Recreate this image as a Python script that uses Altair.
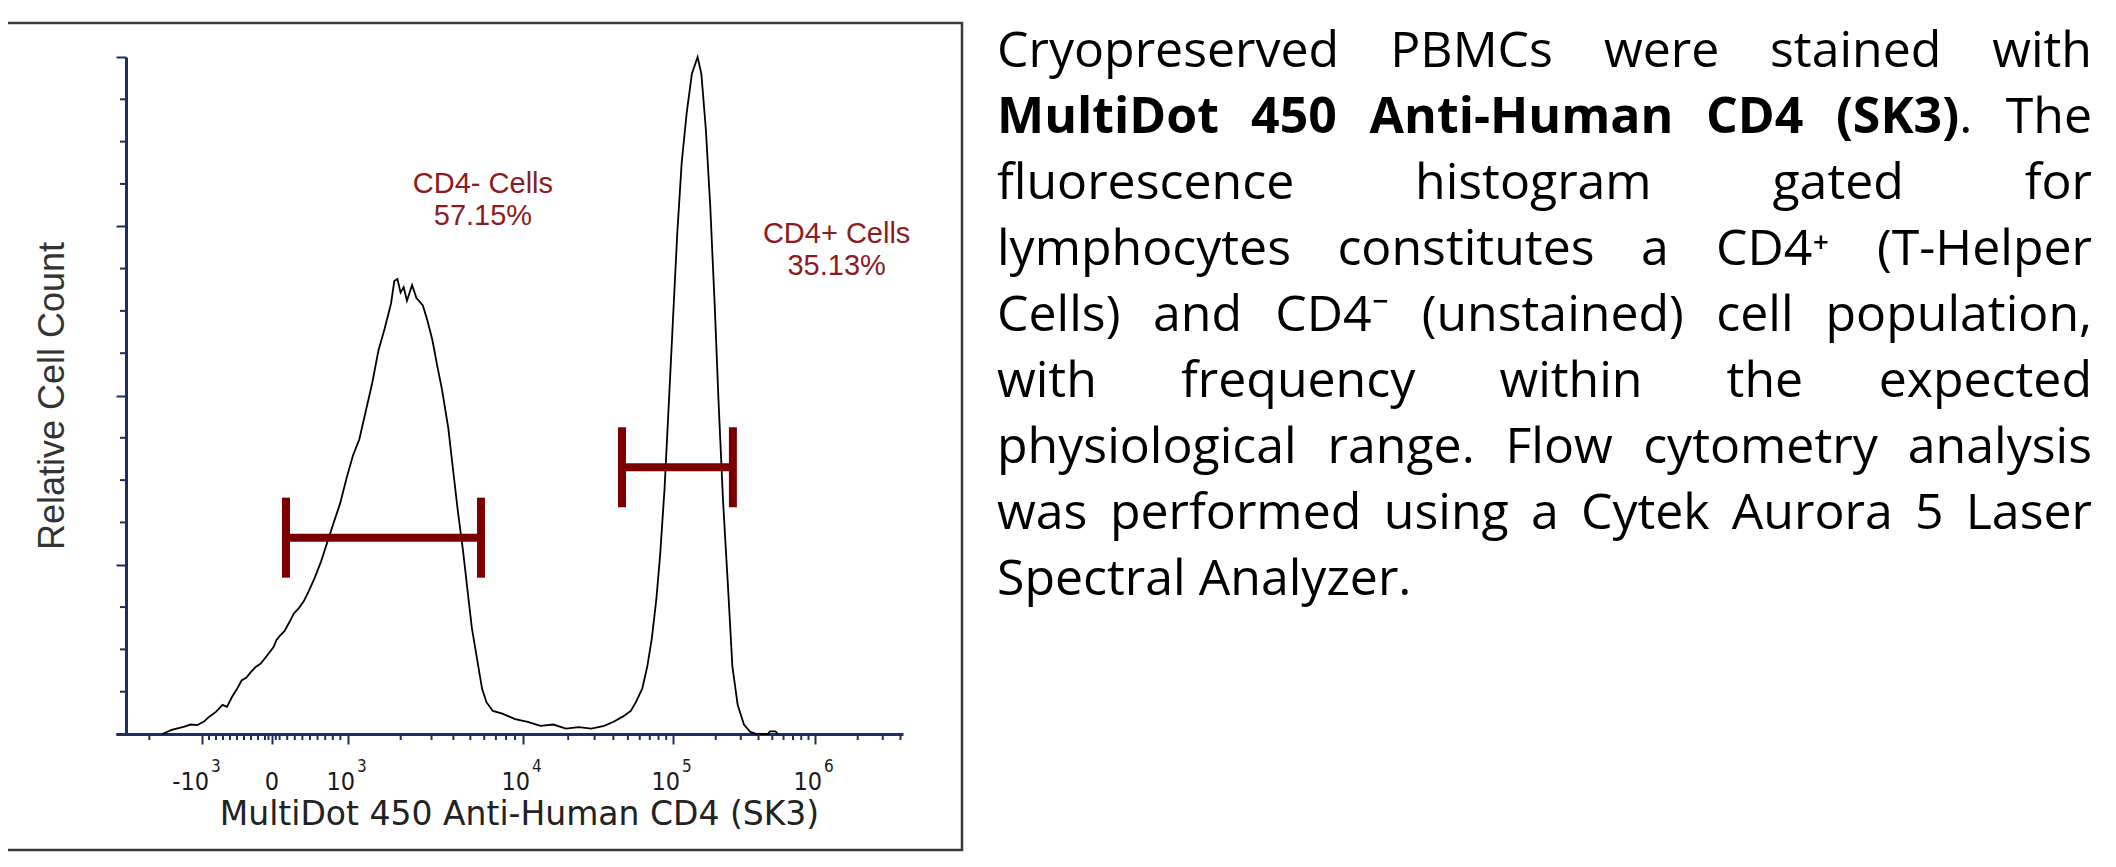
import altair as alt
import numpy as np
import pandas as pd

# ---------------- data ----------------
# histogram: display channel (0-1000 across the axis) and relative cell count (0-100)
hist_channel = [58.6, 70.8, 86.9, 95.0, 103.0, 111.2, 119.0, 127.3, 135.4, 141.0, 147.5, 153.5,
                159.6, 165.5, 171.8, 177.5, 183.9, 192.0, 200.0, 204.0, 208.1, 214.0, 220.2, 226.0,
                232.4, 238.5, 244.5, 252.6, 260.6, 268.7, 276.8, 284.9, 293.0, 301.0, 309.1, 317.2,
                325.3, 333.4, 341.4, 349.5, 353.6, 357.6, 361.6, 365.5, 369.7, 376.2, 381.8, 389.9,
                395.6, 402.0, 408.5, 414.2, 422.2, 427.9, 434.4, 440.8, 446.5, 452.1, 458.6, 465.1,
                470.7, 478.8, 490.9, 507.1, 523.2, 539.4, 555.6, 571.7, 587.9, 604.0, 620.2, 632.3,
                644.4, 654.1, 660.6, 668.7, 675.1, 680.8, 686.5, 691.3, 697.0, 702.6, 707.5, 713.1,
                718.8, 725.2, 731.7, 739.0, 743.8, 749.5, 755.1, 760.8, 765.6, 771.3, 777.8, 783.2,
                789.9, 797.9, 806.0, 814.1, 828.0, 831.0, 838.0, 841.0]
hist_count = [0.0, 0.6, 1.1, 1.4, 1.3, 1.8, 2.6, 3.3, 4.3, 4.0, 5.5, 6.6,
              7.9, 8.3, 9.2, 9.9, 10.4, 11.6, 12.8, 13.9, 14.5, 15.2, 16.5, 17.8,
              18.6, 19.6, 21.0, 23.1, 25.5, 28.4, 31.3, 34.1, 37.8, 41.1, 43.5, 47.6,
              51.7, 56.6, 59.9, 63.6, 66.9, 67.2, 65.2, 66.0, 64.0, 66.3, 64.4, 63.3,
              61.1, 58.2, 54.2, 50.9, 45.2, 39.4, 32.9, 27.2, 21.4, 15.7, 11.2, 6.7,
              4.7, 3.4, 3.0, 2.2, 1.8, 1.2, 1.4, 0.8, 1.0, 0.8, 1.2, 1.8,
              2.6, 3.4, 4.7, 6.7, 10.0, 14.1, 19.8, 26.3, 36.2, 49.2, 60.7, 73.8,
              84.4, 91.8, 97.5, 100.0, 97.5, 89.3, 77.9, 63.2, 49.2, 34.5, 21.4, 10.0,
              4.3, 1.4, 0.3, 0.0, 0.0, 0.4, 0.4, 0.0]

# x axis ticks (fluorescence intensity) and their labels (base + exponent)
tick_values = [-1000, 0, 1000, 10000, 100000, 1000000]
tick_base = ["-10", "0", "10", "10", "10", "10"]
tick_exp = ["3", "", "3", "4", "5", "6"]
minor_values = [-2000, -900, -800, -700, -600, -500, -400, -300, -200, -100, -50,
                50, 100, 200, 300, 400, 500, 600, 700, 800, 900,
                2000, 3000, 4000, 5000, 6000, 7000, 8000, 9000,
                20000, 30000, 40000, 50000, 60000, 70000, 80000, 90000,
                200000, 300000, 400000, 500000, 600000, 700000, 800000, 900000,
                2000000, 3000000, 4000000]
y_major = [0, 25, 50, 75, 100]
y_minor = [6.25, 12.5, 18.75, 31.25, 37.5, 43.75, 56.25, 62.5, 68.75, 81.25, 87.5, 93.75]

# gates
gate_names = ["CD4- Cells", "CD4+ Cells"]
gate_percent = ["57.15%", "35.13%"]
gate_low = [184, 45700]
gate_high = [5750, 264000]
gate_level = [29.0, 39.4]
label_value = [5900, 1420000]
label_count = [79.9, 72.5]

# paragraph (words of each line; "(SK3)" + "." are glued)
para_words = [
    ["Cryopreserved", "PBMCs", "were", "stained", "with"],
    ["MultiDot", "450", "Anti-Human", "CD4", "(SK3)", ".", "The"],
    ["fluorescence", "histogram", "gated", "for"],
    ["lymphocytes", "constitutes", "a", "CD4\u207a", "(T-Helper"],
    ["Cells)", "and", "CD4\u207b", "(unstained)", "cell", "population,"],
    ["with", "frequency", "within", "the", "expected"],
    ["physiological", "range.", "Flow", "cytometry", "analysis"],
    ["was", "performed", "using", "a", "Cytek", "Aurora", "5", "Laser"],
    ["Spectral Analyzer."],
]
bold_words = {(1, 0), (1, 1), (1, 2), (1, 3), (1, 4)}

# ---------------- layout / style ----------------
PARA_LEFT, PARA_WIDTH, PARA_BASE, PARA_GAP, PARA_FS = 881, 1095, 10, 66, 50
W, H = 787, 677
NAVY = "#1c2f5e"
GATE = "#7a0000"
LABEL = "#8a1c22"
TICKFONT = "DejaVu Sans Condensed"

# approximate advance widths (em) of Open Sans, used to justify the paragraph
_reg_chars = " abcdefghiklmnopqrstuvwyzABCDFHLMPST0123456789()-.,"
_reg_w = [.260, .556, .613, .476, .613, .561, .339, .548, .614, .253, .525, .253, .930, .614,
          .604, .613, .613, .408, .477, .353, .614, .501, .778, .500, .477, .633, .648, .631,
          .729, .524, .738, .525, .903, .603, .539, .557] + [.572] * 10 + [.297, .297, .322, .266, .245]
_bold_chars = " MDultioAnHmaCSK0123456789()-."
_bold_w = [.260, .976, .744, .656, .301, .414, .301, .617, .717, .656, .768, .983, .590, .633,
           .550, .655] + [.572] * 10 + [.339, .339, .322, .280]
REG = dict(zip(_reg_chars, _reg_w))
BOLD = dict(zip(_bold_chars, _bold_w))


def text_width(s, bold):
    table = BOLD if bold else REG
    return sum(table.get(ch, .36) for ch in s) * PARA_FS


decade_index = [-2, -1, 0, 1, 2, 3, 4, 5]
decade_channel = [-113.1, 109.3, 198.2, 294.8, 517.2, 707.8, 888.2, 1068.6]


def to_channel(v):
    v = np.asarray(v, dtype=float)
    a = np.abs(v)
    u = np.where(a <= 1000, v / 1000.0,
                 np.sign(v) * (1 + np.log10(np.maximum(a, 1000) / 1000.0)))
    return np.interp(u, decade_index, decade_channel)


tick_ch = [round(float(c), 1) for c in to_channel(tick_values)]

xscale = alt.Scale(domain=[0, 1000], nice=False, zero=False)
yscale = alt.Scale(domain=[0, 100], nice=False, zero=False)

xaxis = alt.Axis(values=tick_ch, labels=False, grid=False,
                 tickSize=10, tickWidth=2, tickColor=NAVY,
                 domainColor=NAVY, domainWidth=3,
                 title="MultiDot 450 Anti-Human CD4 (SK3)",
                 titleFont="DejaVu Sans", titleFontSize=33, titleFontWeight="normal",
                 titleColor="#222222", titleX=403, titleY=90, titleBaseline="alphabetic",
                 titleAlign="center")
yaxis = alt.Axis(values=y_major, labels=False, grid=False, offset=-10,
                 tickSize=10, tickWidth=2, tickColor=NAVY,
                 domainColor=NAVY, domainWidth=3,
                 title="Relative Cell Count",
                 titleFont="Liberation Sans", titleFontSize=36, titleFontWeight="normal",
                 titleColor="#333333", titleAngle=270, titleX=-63, titleY=338.5,
                 titleBaseline="alphabetic", titleAlign="center")

X = alt.X("ch:Q", scale=xscale, axis=xaxis)
Y = alt.Y("cnt:Q", scale=yscale, axis=yaxis)

hist_df = pd.DataFrame({"ch": hist_channel, "cnt": hist_count})
minor_df = pd.DataFrame({"ch": to_channel(minor_values)})
minor_df = minor_df[(minor_df.ch >= 0) & (minor_df.ch <= 1000)]
yminor_df = pd.DataFrame({"cnt": y_minor})
tick_df = pd.DataFrame({"ch": tick_ch, "base": tick_base, "exp": tick_exp})
gate_df = pd.DataFrame({"ch": to_channel(gate_low), "ch2": to_channel(gate_high),
                        "cnt": gate_level})
cap_df = pd.DataFrame({"ch": np.concatenate([to_channel(gate_low), to_channel(gate_high)]),
                       "cnt": gate_level + gate_level})
lab_df = pd.DataFrame({"ch": to_channel(label_value), "cnt": label_count,
                       "name": gate_names, "pct": gate_percent})

frame = alt.Chart(alt.Data(values=[{"a": 1}])).mark_rect(
    fillOpacity=0, stroke="#3a3a3a", strokeWidth=2.5
).encode(x=alt.value(-112), x2=alt.value(846), y=alt.value(-34), y2=alt.value(793))

line = alt.Chart(hist_df).mark_line(color="black", strokeWidth=1.8).encode(x=X, y=Y)

xminor = alt.Chart(minor_df).mark_rule(color=NAVY, strokeWidth=2).encode(
    x=X, y=alt.value(H), y2=alt.value(H + 6))
yminor = alt.Chart(yminor_df).mark_rule(color=NAVY, strokeWidth=2).encode(
    y=Y, x=alt.value(4), x2=alt.value(10))

tick_base_text = alt.Chart(tick_df).mark_text(
    font=TICKFONT, fontSize=25, color="#1a1a1a", align="right", baseline="alphabetic", dx=7
).encode(x=X, y=alt.value(H + 56), text="base:N")
tick_exp_text = alt.Chart(tick_df).mark_text(
    font=TICKFONT, fontSize=17, color="#1a1a1a", align="left", baseline="alphabetic", dx=9
).encode(x=X, y=alt.value(H + 38), text="exp:N")

gate_bar = alt.Chart(gate_df).mark_rule(color=GATE, strokeWidth=8).encode(
    x=X, x2="ch2:Q", y=Y)
gate_cap = alt.Chart(cap_df).mark_tick(color=GATE, orient="vertical", size=80,
                                       thickness=8, opacity=1).encode(x=X, y=Y)

lab1 = alt.Chart(lab_df).mark_text(font="Liberation Sans", fontSize=29, color=LABEL,
                                   align="center", baseline="alphabetic").encode(
    x=X, y=Y, text="name:N")
lab2 = alt.Chart(lab_df).mark_text(font="Liberation Sans", fontSize=29, color=LABEL,
                                   align="center", baseline="alphabetic", dy=32).encode(
    x=X, y=Y, text="pct:N")

# paragraph: justified lines (equal gaps), last line left aligned
rows = []
last = len(para_words) - 1
for li, words in enumerate(para_words):
    py = PARA_BASE + li * PARA_GAP
    if li == last:
        rows.append({"text": " ".join(words), "px": PARA_LEFT, "py": py,
                     "align": "left", "weight": "normal"})
        continue
    groups = []
    for wi, w in enumerate(words):
        wt = text_width(w, (li, wi) in bold_words)
        if w in {".", ","} and groups:
            groups[-1].append((wi, w, wt))
        else:
            groups.append([(wi, w, wt)])
    gw = [sum(t[2] for t in g) for g in groups]
    gap = (PARA_WIDTH - sum(gw)) / (len(groups) - 1)
    x = 0.0
    for gi, g in enumerate(groups):
        for ti, (wi, w, wt) in enumerate(g):
            weight = "bold" if (li, wi) in bold_words else "normal"
            if gi == 0 and ti == 0:
                align, px = "left", x
            elif gi == len(groups) - 1:
                align, px = "right", PARA_WIDTH
            elif len(g) > 1 and ti == 0:
                align, px = "right", x + wt
            elif ti > 0:
                align, px = "left", x
            else:
                align, px = "center", x + wt / 2
            rows.append({"text": w, "px": PARA_LEFT + px, "py": py,
                         "align": align, "weight": weight})
            x += wt
        x += gap
para_df = pd.DataFrame(rows)

para_layers = []
for (al, wt), sub in para_df.groupby(["align", "weight"]):
    para_layers.append(
        alt.Chart(sub).mark_text(font="Open Sans", fontSize=PARA_FS, color="black",
                                 align=al, fontWeight=wt, baseline="alphabetic").encode(
            x=alt.X("px:Q", scale=None), y=alt.Y("py:Q", scale=None), text="text:N"))

chart = alt.layer(frame, line, xminor, yminor, tick_base_text, tick_exp_text,
                  gate_bar, gate_cap, lab1, lab2, *para_layers).properties(
    width=W, height=H,
    autosize=alt.AutoSizeParams(type="none"),
    padding={"left": 108, "top": 49, "right": 1200, "bottom": 119},
    background="white",
).configure_view(stroke=None)

chart.save("out.html", embed_options={"renderer": "svg", "actions": False})
